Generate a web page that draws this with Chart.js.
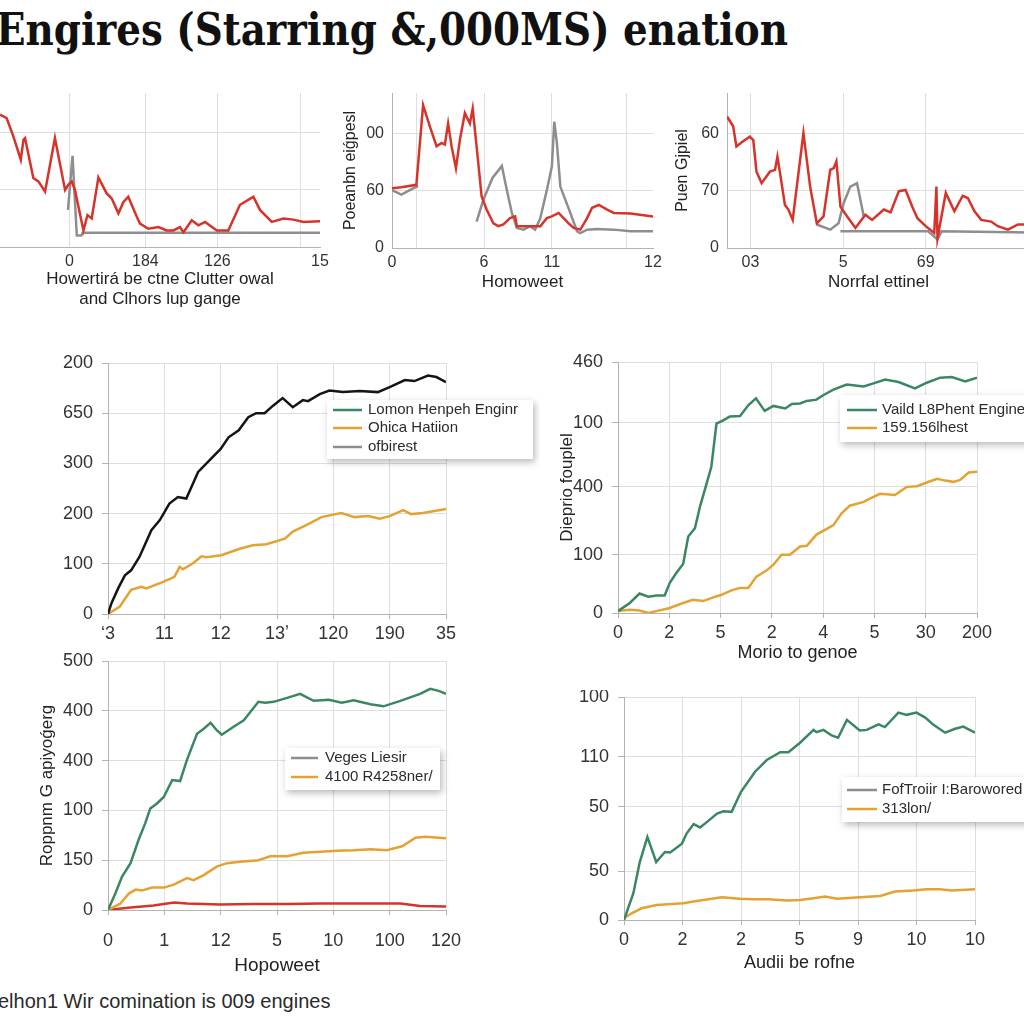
<!DOCTYPE html>
<html>
<head>
<meta charset="utf-8">
<script src="https://cdn.jsdelivr.net/npm/chart.js@4.4.1/dist/chart.umd.min.js"></script>
<style>
    html, body { margin: 0; padding: 0; width: 1024px; height: 1024px; overflow: hidden; background: #fff; }
    canvas { position: absolute; }
    #title {
        position: absolute; left: -4px; top: 8px;
        font: bold 44px "DejaVu Serif", serif; line-height: 44px;
        white-space: nowrap; color: #111; transform-origin: 0 0;
    }
    #footer {
        position: absolute; left: -2px; top: 991px;
        font: 20px "Liberation Sans", Arial, sans-serif; line-height: 20px;
        color: #2a2a2a; white-space: nowrap;
    }
</style>
</head>
<body>
<div id="title">Engires (Starring &amp;,000MS) enation</div>
<canvas id="c1"></canvas>
<canvas id="c2"></canvas>
<canvas id="c3"></canvas>
<canvas id="c4"></canvas>
<canvas id="c5"></canvas>
<canvas id="c6"></canvas>
<canvas id="c7"></canvas>
<div id="footer">elhon1 Wir comination is 009 engines</div>

<script>
// ==========================
// DATA  (x, y) pairs per series, null = break in the line
// ==========================

// top-left
const c1Red = [[0,2.32],[0.25,2.26],[0.5,1.94],[0.78,1.53],[0.88,1.88],[0.94,1.91],[1.25,1.21],[1.44,1.15],[1.69,0.97],[2.06,1.91],[2.44,1.0],[2.56,1.09],[2.69,1.15],[2.81,1.0],[3.13,0.29],[3.28,0.56],[3.44,0.5],[3.69,1.22],[4.0,0.94],[4.19,0.85],[4.44,0.59],[4.63,0.79],[4.81,0.88],[5.13,0.53],[5.25,0.41],[5.56,0.32],[5.94,0.35],[6.25,0.29],[6.5,0.29],[6.75,0.35],[6.88,0.26],[7.19,0.47],[7.44,0.38],[7.69,0.44],[8.13,0.29],[8.56,0.29],[9.0,0.74],[9.5,0.88],[9.75,0.65],[10.19,0.44],[10.63,0.5],[11.0,0.48],[11.38,0.44],[12,0.45]];
const c1Gray = [[2.55,0.65],[2.72,1.6],[2.88,0.2],[3.05,0.2],[3.1,0.25],[12,0.25]];
const c1XTicks = [2.6, 5.45, 8.15, 11.25, 12];
const c1XLabels = ["0", "184", "126", "", "15"];
const c1YTicks = [0, 1, 2];

// top-middle
const c2Red = [[0,1.04],[0.43,1.06],[1.12,1.1],[1.43,2.49],[1.74,2.12],[2.05,1.77],[2.28,1.83],[2.43,1.8],[2.58,2.17],[2.74,1.77],[2.94,1.39],[3.12,1.88],[3.35,2.35],[3.58,2.17],[3.71,2.43],[3.89,1.77],[4.12,0.9],[4.35,0.67],[4.66,0.43],[4.89,0.38],[5.12,0.41],[5.43,0.52],[5.66,0.55],[5.74,0.38],[5.97,0.38],[6.82,0.38],[7.12,0.52],[7.35,0.55],[7.66,0.61],[7.89,0.52],[8.12,0.43],[8.35,0.35],[8.66,0.32],[8.97,0.52],[9.2,0.7],[9.51,0.75],[9.89,0.67],[10.2,0.61],[10.97,0.6],[12,0.55]];
const c2Gray = [[0,1.01],[0.43,0.93],[0.97,1.04],[1.2,1.08],null,[3.89,0.46],[4.2,0.84],[4.62,1.22],[5.05,1.43],[5.28,1.01],[5.51,0.61],[5.74,0.35],[6.05,0.32],[6.35,0.38],[6.58,0.32],[6.82,0.52],[7.12,1.01],[7.35,1.42],[7.46,2.2],[7.58,1.83],[7.74,1.07],[8.2,0.61],[8.51,0.29],[8.66,0.26],[8.97,0.32],[9.43,0.33],[10.2,0.32],[10.97,0.29],[12,0.29]];
const c2XTicks = [0, 1.12, 4.23, 7.35, 10.8, 12];
const c2XLabels = ["0", "", "6", "11", "", "12"];
const c2YTicks = [0, 1, 2];
const c2YLabels = ["0", "60", "00"];

// top-right
const c3Red = [[0,2.29],[0.23,2.12],[0.35,1.77],[0.6,1.86],[0.85,1.94],[0.98,1.88],[1.1,1.33],[1.29,1.13],[1.6,1.33],[1.79,1.36],[1.88,1.59],[1.98,1.3],[2.16,0.75],[2.29,0.67],[2.45,0.49],[2.85,2.0],[3.1,1.07],[3.35,0.43],[3.6,0.55],[3.85,1.36],[3.98,1.39],[4.08,1.51],[4.23,0.72],[4.48,0.55],[4.79,0.35],[5.16,0.58],[5.41,0.49],[5.85,0.67],[6.1,0.62],[6.41,0.99],[6.66,1.01],[6.91,0.72],[7.1,0.52],[7.41,0.38],[7.73,0.26],[7.81,1.07],[7.85,0.17],[8.16,0.96],[8.48,0.64],[8.79,0.91],[8.98,0.87],[9.23,0.64],[9.48,0.49],[9.85,0.46],[10.1,0.38],[10.48,0.32],[10.85,0.41],[11.3,0.41]];
const c3Gray = [[3.35,0.41],[3.85,0.32],[4.16,0.43],[4.35,0.78],[4.6,1.07],[4.85,1.13],[5.1,0.55],null,[4.23,0.29],[7.5,0.29],[7.85,0.15],[8.0,0.29],[11.3,0.27]];
const c3XTicks = [0.875, 4.33, 7.41];
const c3XLabels = ["03", "5", "69"];
const c3YTicks = [0, 1, 2];
const c3YLabels = ["0", "70", "60"];

// middle-left
const c4Black = [[0,0],[0.06,0.21],[0.18,0.51],[0.3,0.77],[0.41,0.87],[0.56,1.14],[0.77,1.67],[0.92,1.87],[1.09,2.2],[1.24,2.33],[1.39,2.3],[1.6,2.83],[1.8,3.06],[2.0,3.29],[2.14,3.52],[2.32,3.66],[2.49,3.92],[2.63,4.0],[2.78,4.0],[2.93,4.15],[3.1,4.3],[3.28,4.12],[3.46,4.26],[3.55,4.24],[3.76,4.38],[3.93,4.45],[4.17,4.42],[4.47,4.44],[4.79,4.42],[5.0,4.52],[5.27,4.66],[5.44,4.64],[5.68,4.75],[5.83,4.72],[6.0,4.62]];
const c4Orange = [[0,0],[0.21,0.15],[0.41,0.48],[0.59,0.54],[0.68,0.51],[0.98,0.64],[1.18,0.74],[1.27,0.94],[1.33,0.89],[1.51,1.01],[1.66,1.15],[1.75,1.13],[2.01,1.17],[2.34,1.3],[2.57,1.37],[2.81,1.39],[3.14,1.5],[3.28,1.64],[3.52,1.77],[3.79,1.93],[4.0,1.98],[4.14,2.01],[4.38,1.93],[4.62,1.95],[4.82,1.9],[5.0,1.95],[5.24,2.07],[5.38,1.99],[5.59,2.01],[6.0,2.09]];
const c4XTicks = [0, 1, 2, 3, 4, 5, 6];
const c4XLabels = ["ʻ3", "11", "12", "13ʼ", "120", "190", "35"];
const c4YTicks = [0, 1, 2, 3, 4, 5];
const c4YLabels = ["0", "100", "200", "300", "650", "200"];
const c4LegendLabels = ["Lomon Henpeh Enginr", "Ohica Hatiion", "ofbirest"];

// middle-right
const c5Green = [[0,0.03],[0.23,0.16],[0.42,0.31],[0.59,0.26],[0.75,0.28],[0.91,0.28],[1.01,0.48],[1.14,0.64],[1.27,0.78],[1.37,1.22],[1.5,1.35],[1.6,1.7],[1.73,2.07],[1.82,2.33],[1.92,3.02],[1.95,3.03],[2.05,3.07],[2.18,3.13],[2.38,3.14],[2.54,3.31],[2.69,3.42],[2.86,3.22],[3.03,3.3],[3.26,3.26],[3.39,3.33],[3.55,3.34],[3.68,3.38],[3.87,3.4],[4.0,3.47],[4.2,3.56],[4.46,3.64],[4.79,3.61],[4.98,3.66],[5.21,3.72],[5.47,3.68],[5.79,3.58],[6.02,3.67],[6.28,3.75],[6.51,3.76],[6.77,3.69],[7.0,3.75]];
const c5Orange = [[0,0.03],[0.23,0.05],[0.42,0.04],[0.59,0],[0.75,0.03],[1.01,0.08],[1.27,0.16],[1.46,0.21],[1.66,0.19],[1.86,0.25],[2.02,0.29],[2.21,0.36],[2.38,0.4],[2.54,0.4],[2.7,0.58],[2.9,0.68],[3.03,0.77],[3.19,0.93],[3.35,0.93],[3.55,1.06],[3.68,1.07],[3.87,1.25],[4.07,1.34],[4.2,1.4],[4.36,1.59],[4.52,1.71],[4.79,1.77],[4.98,1.85],[5.11,1.9],[5.4,1.88],[5.63,2.01],[5.83,2.02],[6.02,2.08],[6.22,2.14],[6.38,2.11],[6.54,2.09],[6.67,2.12],[6.84,2.24],[7.0,2.25]];
const c5XTicks = [0, 1, 2, 3, 4, 5, 6, 7];
const c5XLabels = ["0", "2", "5", "2", "4", "5", "30", "200"];
const c5YTicks = [0, 0.93, 2.01, 3.03, 4];
const c5YLabels = ["0", "100", "400", "100", "460"];
const c5LegendLabels = ["Vaild L8Phent Engine", "159.156lhest"];

// bottom-left
const c6Green = [[0,0],[0.13,0.33],[0.25,0.67],[0.4,0.94],[0.54,1.4],[0.66,1.74],[0.75,2.04],[0.87,2.14],[0.99,2.27],[1.14,2.61],[1.28,2.59],[1.4,3.01],[1.58,3.54],[1.7,3.64],[1.82,3.76],[1.93,3.61],[2.02,3.52],[2.23,3.68],[2.41,3.81],[2.53,3.98],[2.67,4.18],[2.79,4.16],[2.94,4.18],[3.18,4.26],[3.41,4.34],[3.65,4.2],[3.92,4.22],[4.15,4.16],[4.36,4.21],[4.66,4.13],[4.89,4.09],[5.19,4.2],[5.54,4.34],[5.72,4.44],[5.87,4.4],[6.0,4.34]];
const c6Orange = [[0,0],[0.22,0.13],[0.37,0.33],[0.49,0.41],[0.6,0.39],[0.78,0.45],[0.99,0.45],[1.17,0.51],[1.4,0.64],[1.52,0.6],[1.7,0.7],[1.93,0.87],[2.11,0.94],[2.35,0.97],[2.67,1.0],[2.88,1.08],[3.18,1.08],[3.47,1.15],[3.77,1.17],[4.07,1.19],[4.36,1.2],[4.66,1.22],[4.95,1.2],[5.22,1.28],[5.46,1.45],[5.63,1.47],[6.0,1.44]];
const c6Red = [[0,0],[0.4,0.05],[0.81,0.09],[1.17,0.15],[1.4,0.13],[1.99,0.11],[2.59,0.12],[3.18,0.12],[3.77,0.13],[4.36,0.13],[4.95,0.13],[5.19,0.13],[5.54,0.08],[6.0,0.07]];
const c6XTicks = [0, 1, 2, 3, 4, 5, 6];
const c6XLabels = ["0", "1", "12", "5", "10", "100", "120"];
const c6YTicks = [0, 1, 2, 3, 4, 5];
const c6YLabels = ["0", "150", "100", "400", "400", "500"];
const c6LegendLabels = ["Veges Liesir", "4100 R4258ner/"];

// bottom-right
const c7Green = [[0,0],[0.16,0.48],[0.27,1.04],[0.4,1.49],[0.55,1.04],[0.7,1.22],[0.79,1.21],[0.99,1.37],[1.07,1.55],[1.19,1.72],[1.3,1.66],[1.42,1.76],[1.59,1.91],[1.7,1.95],[1.84,1.94],[2.0,2.3],[2.24,2.66],[2.44,2.87],[2.67,3.01],[2.81,3.01],[3.01,3.18],[3.24,3.41],[3.29,3.37],[3.41,3.41],[3.55,3.31],[3.66,3.27],[3.81,3.59],[4.03,3.4],[4.15,3.41],[4.35,3.51],[4.46,3.46],[4.69,3.72],[4.83,3.68],[5.0,3.72],[5.15,3.63],[5.29,3.5],[5.49,3.36],[5.66,3.43],[5.8,3.47],[6.0,3.36]];
const c7Orange = [[0,0.03],[0.13,0.12],[0.3,0.21],[0.56,0.27],[1.01,0.3],[1.3,0.35],[1.67,0.41],[1.98,0.38],[2.21,0.37],[2.47,0.37],[2.78,0.35],[3.01,0.36],[3.24,0.39],[3.44,0.42],[3.64,0.38],[4.03,0.41],[4.38,0.43],[4.63,0.51],[4.95,0.53],[5.17,0.55],[5.4,0.55],[5.6,0.53],[6.0,0.55]];
const c7XTicks = [0, 1, 2, 3, 4, 5, 6];
const c7XLabels = ["0", "2", "2", "5", "9", "10", "10"];
const c7YTicks = [0, 0.87, 2.03, 2.93, 4];
const c7YLabels = ["0", "50", "50", "110", "100"];
const c7LegendLabels = ["FofTroiir I:Barowored", "313lon/"];

// ==========================
// STYLE
// ==========================
const RED = "#d6342b", GRAY = "#8e8e8e", BLACK = "#151515", ORANGE = "#e3a232", GREEN = "#3b8763";
const GRID = "#dedede", AXIS = "#b3b3b3", CLEAR = "rgba(0,0,0,0)";
const FONT = "'Liberation Sans', Arial, sans-serif";

function pts(arr) {
    // null in the list -> gap in the line
    return arr.map((p, i) => p ? { x: p[0], y: p[1] } : { x: arr[i - 1][0], y: null });
}

// legend box with a soft shadow, drawn over the plot
const boxLegend = {
    id: "boxLegend",
    afterDatasetsDraw(chart, args, o) {
        if (!o || !o.labels) return;
        const ctx = chart.ctx;
        ctx.save();
        ctx.shadowColor = "rgba(0,0,0,0.28)";
        ctx.shadowBlur = 7;
        ctx.shadowOffsetX = 2;
        ctx.shadowOffsetY = 3;
        ctx.fillStyle = "#fff";
        ctx.fillRect(o.x, o.y, o.w, o.h);
        ctx.restore();

        ctx.save();
        ctx.font = "15px " + FONT;
        ctx.textBaseline = "middle";
        for (let i = 0; i < o.labels.length; i++) {
            const yy = o.y + o.rows[i];
            ctx.strokeStyle = o.colors[i];
            ctx.lineWidth = 2.5;
            ctx.beginPath();
            ctx.moveTo(o.x + o.line[0], yy);
            ctx.lineTo(o.x + o.line[1], yy);
            ctx.stroke();
            ctx.fillStyle = "#2b2b2b";
            ctx.fillText(o.labels[i], o.x + o.text, yy);
        }
        ctx.restore();
    }
};

function makeChart(cfg) {
    const cv = document.getElementById(cfg.id);
    cv.width = cfg.box[2];
    cv.height = cfg.box[3];
    cv.style.left = cfg.box[0] + "px";
    cv.style.top = cfg.box[1] + "px";

    const small = cfg.small;               // top row: no tick marks
    const tickFont = { family: FONT, size: small ? 16 : 18 };
    const hideX = cfg.xGridHide || [];

    return new Chart(cv, {
        type: "line",
        data: {
            datasets: cfg.series.map(s => ({
                data: pts(s.data),
                borderColor: s.color,
                borderWidth: 2.5,
                pointRadius: 0,
                tension: 0,
                fill: false,
                spanGaps: false
            }))
        },
        options: {
            responsive: false,
            animation: false,
            events: [],
            layout: { padding: { top: cfg.pad[0], right: cfg.pad[1], left: 0, bottom: 0 } },
            plugins: {
                legend: { display: false },
                tooltip: { enabled: false },
                boxLegend: cfg.legend || false
            },
            scales: {
                x: {
                    type: "linear",
                    min: cfg.xRange[0],
                    max: cfg.xRange[1],
                    afterBuildTicks: s => { s.ticks = cfg.xTicks.map(v => ({ value: v })); },
                    afterFit: s => { s.height = cfg.xHeight; },
                    ticks: {
                        autoSkip: false, maxRotation: 0, minRotation: 0,
                        font: tickFont, color: "#333",
                        padding: cfg.xTickPad || (small ? 5 : 4),
                        callback: (v, i) => cfg.xLabels[i]
                    },
                    grid: {
                        color: c => hideX.includes(c.index) ? CLEAR : GRID,
                        drawTicks: !small, tickLength: 5, tickColor: AXIS
                    },
                    border: { display: true, color: AXIS },
                    title: {
                        display: !!cfg.xTitle,
                        text: cfg.xTitle || "",
                        color: "#222",
                        font: { family: FONT, size: cfg.xTitleSize || 17 },
                        padding: { top: 0, bottom: cfg.xTitlePad || 0 }
                    }
                },
                y: {
                    type: "linear",
                    min: cfg.yRange[0],
                    max: cfg.yRange[1],
                    afterBuildTicks: s => { s.ticks = cfg.yTicks.map(v => ({ value: v })); },
                    afterFit: s => {
                        s.width = cfg.yWidth;
                        // plot top/bottom set by layout padding only
                        s.paddingTop = 0;
                        s.paddingBottom = 0;
                    },
                    ticks: {
                        display: !!cfg.yLabels,
                        font: tickFont, color: "#333",
                        padding: small ? 8 : 9,
                        callback: (v, i) => cfg.yLabels ? cfg.yLabels[i] : ""
                    },
                    grid: { color: GRID, drawTicks: !small, tickLength: 6, tickColor: AXIS },
                    border: { display: cfg.yBorder !== false, color: AXIS },
                    title: {
                        display: !!cfg.yTitle,
                        text: cfg.yTitle || "",
                        color: "#222",
                        font: { family: FONT, size: small ? 16 : 17 },
                        padding: { top: cfg.yTitlePad || 0, bottom: 0 }
                    }
                }
            }
        },
        plugins: [boxLegend]
    });
}

document.addEventListener("DOMContentLoaded", function () {

    // title squeezed to the width it has in the picture
    const title = document.getElementById("title");
    const tw = title.getBoundingClientRect().width;
    title.style.transform = "scaleX(" + (792 / tw) + ")";

    // 1. top row
    makeChart({
        id: "c1", box: [0, 85, 340, 225], pad: [8, 20], small: true,
        xHeight: 63, yWidth: 0, yBorder: false,
        xRange: [0, 12], yRange: [0, 2.7],
        xTicks: c1XTicks, xLabels: c1XLabels, xGridHide: [4],
        yTicks: c1YTicks, yLabels: null,
        xTitle: ["Howertirá be ctne Clutter owal", "and Clhors lup gange"], xTitlePad: 0,
        series: [{ data: c1Red, color: RED }, { data: c1Gray, color: GRAY }]
    });

    makeChart({
        id: "c2", box: [335, 85, 335, 215], pad: [8, 17], small: true,
        xHeight: 52, yWidth: 57,
        xRange: [0, 12], yRange: [0, 2.7],
        xTicks: c2XTicks, xLabels: c2XLabels, xGridHide: [5],
        yTicks: c2YTicks, yLabels: c2YLabels,
        yTitle: "Poeanbn eiǵpesl", yTitlePad: 6,
        xTitle: "Homoweet", xTitlePad: 7,
        series: [{ data: c2Red, color: RED }, { data: c2Gray, color: GRAY }]
    });

    makeChart({
        id: "c3", box: [670, 85, 370, 215], pad: [8, 10], small: true,
        xHeight: 52, yWidth: 57,
        xRange: [0, 11.3], yRange: [0, 2.7],
        xTicks: c3XTicks, xLabels: c3XLabels,
        yTicks: c3YTicks, yLabels: c3YLabels,
        yTitle: "Puen Gjpiel", yTitlePad: 3,
        xTitle: "Norrfal ettinel", xTitlePad: 7,
        series: [{ data: c3Red, color: RED }, { data: c3Gray, color: GRAY }]
    });

    // 2. middle row
    makeChart({
        id: "c4", box: [40, 350, 500, 300], pad: [13, 94],
        xHeight: 36, yWidth: 68,
        xRange: [0, 6], yRange: [0, 5],
        xTicks: c4XTicks, xLabels: c4XLabels,
        yTicks: c4YTicks, yLabels: c4YLabels,
        series: [{ data: c4Black, color: BLACK }, { data: c4Orange, color: ORANGE }],
        legend: { x: 287, y: 50, w: 206, h: 59, rows: [10, 28, 47], line: [6, 35], text: 41,
                  labels: c4LegendLabels, colors: [GREEN, ORANGE, GRAY] }
    });

    makeChart({
        id: "c5", box: [550, 350, 474, 320], pad: [12, 47],
        xHeight: 57, yWidth: 68,
        xRange: [0, 7], yRange: [0, 4],
        xTicks: c5XTicks, xLabels: c5XLabels,
        yTicks: c5YTicks, yLabels: c5YLabels,
        yTitle: "Dieprio fouplel", yTitlePad: 7,
        xTitle: "Morio to genoe", xTitleSize: 18, xTitlePad: 6,
        series: [{ data: c5Green, color: GREEN }, { data: c5Orange, color: ORANGE }],
        legend: { x: 290, y: 45, w: 200, h: 47, rows: [15, 33], line: [7, 37], text: 42,
                  labels: c5LegendLabels, colors: [GREEN, ORANGE] }
    });

    // 3. bottom row
    makeChart({
        id: "c6", box: [30, 650, 460, 335], pad: [11, 44],
        xHeight: 75, yWidth: 78, xTickPad: 15,
        xRange: [0, 6], yRange: [0, 5],
        xTicks: c6XTicks, xLabels: c6XLabels,
        yTicks: c6YTicks, yLabels: c6YLabels,
        yTitle: "Roppnm G apiyoǵerg", yTitlePad: 7,
        xTitle: "Hopoweet", xTitleSize: 19, xTitlePad: 8,
        series: [{ data: c6Green, color: GREEN }, { data: c6Orange, color: ORANGE }, { data: c6Red, color: RED }],
        legend: { x: 255, y: 98, w: 155, h: 42, rows: [10, 29], line: [6, 33], text: 40,
                  labels: c6LegendLabels, colors: [GRAY, ORANGE] }
    });

    makeChart({
        id: "c7", box: [560, 690, 464, 295], pad: [7, 49],
        xHeight: 65, yWidth: 64,
        xRange: [0, 6], yRange: [0, 4],
        xTicks: c7XTicks, xLabels: c7XLabels,
        yTicks: c7YTicks, yLabels: c7YLabels,
        xTitle: "Audii be rofne", xTitleSize: 18, xTitlePad: 11,
        series: [{ data: c7Green, color: GREEN }, { data: c7Orange, color: ORANGE }],
        legend: { x: 282, y: 87, w: 200, h: 45, rows: [13, 32], line: [5, 35], text: 40,
                  labels: c7LegendLabels, colors: [GRAY, ORANGE] }
    });
});
</script>
</body>
</html>
